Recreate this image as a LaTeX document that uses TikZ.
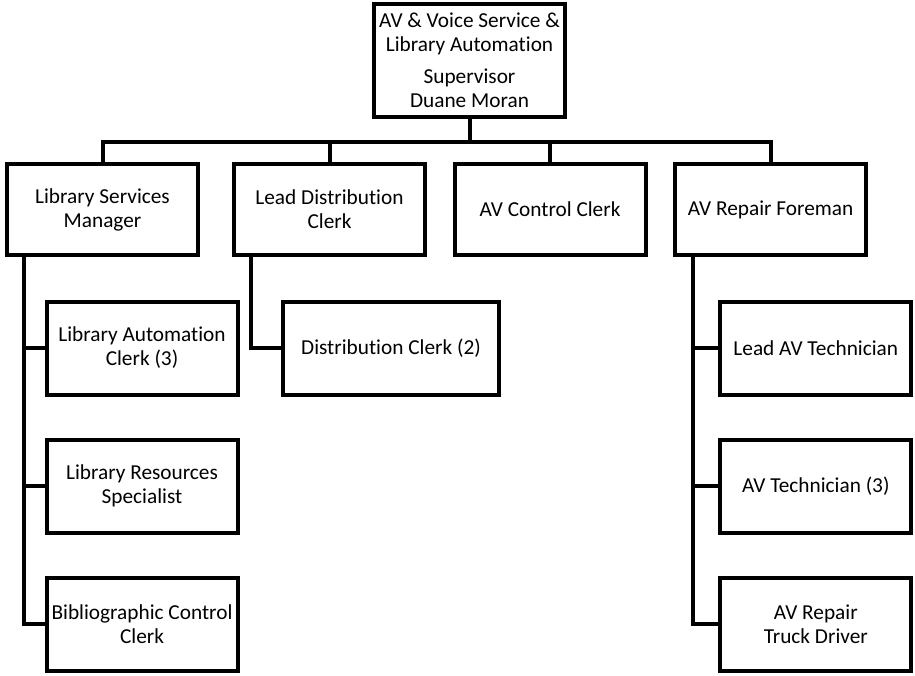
\documentclass[tikz,border=0pt]{standalone}
\usepackage{fontspec}
\setmainfont{Carlito}[Ligatures=NoCommon,RawFeature={-liga}]
\begin{document}
\begin{tikzpicture}[x=1pt,y=-1pt,
  box/.style={draw=black,line width=4pt,fill=white,align=center,
    font=\fontsize{21.3}{24}\selectfont,inner sep=2pt},
  mid/.style={box,minimum width=191pt,minimum height=91pt},
  sub/.style={box,minimum width=191pt,minimum height=93pt},
  conn/.style={draw=black,line width=4pt}]
\useasboundingbox (0,0) rectangle (915,675);
\coordinate (bar) at (0,142);
% boxes
\node[box,minimum width=191pt,minimum height=113pt] (top) at (469.5,60.5)
  {AV \& Voice Service \&\\Library Automation\\[8pt]Supervisor\\Duane Moran};
\node[mid] (lsm) at (102.5,209.5) {Library Services\\Manager};
\node[mid] (ldc) at (329.5,209.5) {Lead Distribution\\Clerk};
\node[mid] (avc) at (550,209.5) {AV Control Clerk};
\node[mid] (avrf) at (770.5,209.5) {AV Repair Foreman};
\node[sub] (lac) at (142,348) {Library Automation\\Clerk (3)};
\node[sub] (lrs) at (142,486) {Library Resources\\Specialist};
\node[sub] (bcc) at (142,624) {Bibliographic Control\\Clerk};
\node[sub,minimum width=216pt] (dc) at (391,348) {Distribution Clerk (2)};
\node[sub] (lav) at (815.8,348) {Lead AV Technician};
\node[sub] (avt) at (815.8,486) {AV Technician (3)};
\node[sub] (avrtd) at (815.8,624) {AV Repair\\Truck Driver};
% connector anchors
\coordinate (lsmv) at (24,0);
\coordinate (ldcv) at (250.7,0);
\coordinate (avrfv) at (693,0);
% top level connectors
\draw[conn] (top.south) -- (top.south |- bar);
\foreach \n in {lsm,ldc,avc,avrf}
  \draw[conn] (\n.north) |- (top.south |- bar);
% sub connectors
\foreach \n in {lac,lrs,bcc}
  \draw[conn] (lsmv |- lsm.south) |- (\n.west);
\draw[conn] (ldcv |- ldc.south) |- (dc.west);
\foreach \n in {lav,avt,avrtd}
  \draw[conn] (avrfv |- avrf.south) |- (\n.west);
\end{tikzpicture}
\end{document}
